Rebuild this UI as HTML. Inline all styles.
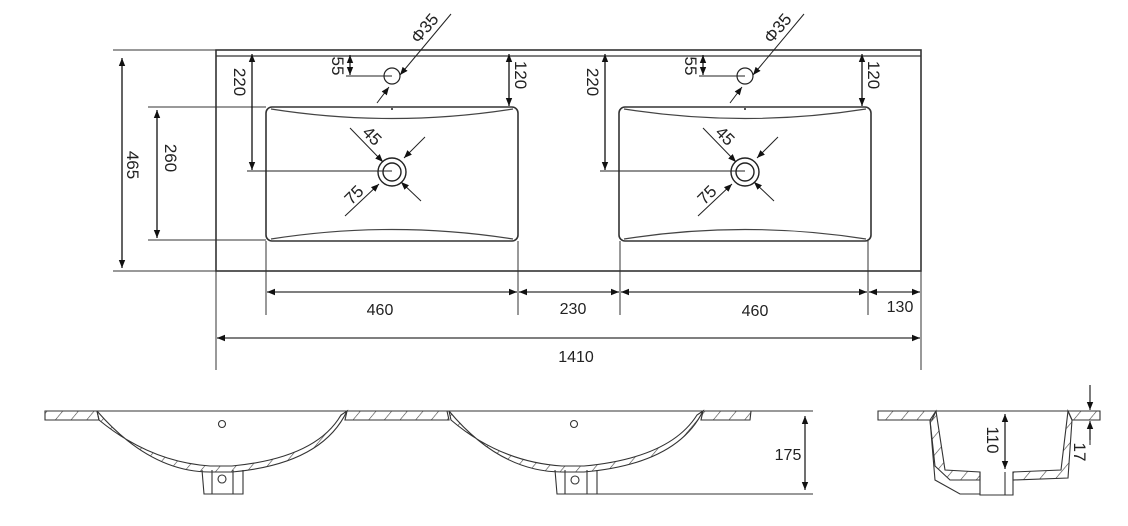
<!DOCTYPE html>
<html><head><meta charset="utf-8"><style>
html,body{margin:0;padding:0;background:#fff;}
svg{display:block;}
text{font-family:"Liberation Sans",sans-serif;fill:#222;}
</style></head><body>
<svg width="1128" height="526" viewBox="0 0 1128 526" xmlns="http://www.w3.org/2000/svg">
<defs>
<marker id="a" viewBox="0 0 10 10" refX="10" refY="5" markerWidth="8" markerHeight="8" orient="auto-start-reverse" markerUnits="userSpaceOnUse"><path d="M0,1 L10,5 L0,9z" fill="#111"/></marker>
<pattern id="h" width="12" height="12" patternUnits="userSpaceOnUse" patternTransform="rotate(40)"><line x1="0" y1="0" x2="0" y2="12" stroke="#444" stroke-width="1.2"/></pattern>
<g id="basin">
 <rect x="266" y="107" width="252" height="134" rx="6" fill="none" stroke="#333" stroke-width="1.6"/>
 <path d="M271,109 Q392,128 513,109" fill="none" stroke="#444" stroke-width="1.2"/>
 <path d="M271,239 Q392,220 513,239" fill="none" stroke="#444" stroke-width="1.2"/>
 <circle cx="392" cy="172" r="9" fill="none" stroke="#222" stroke-width="1.4"/>
 <circle cx="392" cy="172" r="14" fill="none" stroke="#222" stroke-width="1.4"/>
 <circle cx="392" cy="76" r="8" fill="none" stroke="#222" stroke-width="1.2"/>
 <line x1="392" y1="108" x2="392" y2="110" stroke="#555" stroke-width="2"/>
 <line x1="252" y1="54" x2="252" y2="170" stroke="#111" stroke-width="1.3" marker-start="url(#a)" marker-end="url(#a)"/>
 <line x1="247" y1="171" x2="392" y2="171" stroke="#222"/>
 <text transform="translate(234,82) rotate(90)" font-size="17" text-anchor="middle">220</text>
 <line x1="350" y1="55" x2="350" y2="75" stroke="#111" stroke-width="1.2" marker-start="url(#a)" marker-end="url(#a)"/>
 <line x1="346" y1="76" x2="392" y2="76" stroke="#222"/>
 <text transform="translate(332,66) rotate(90)" font-size="17" text-anchor="middle">55</text>
 <line x1="509" y1="54" x2="509" y2="106" stroke="#111" stroke-width="1.3" marker-start="url(#a)" marker-end="url(#a)"/>
 <text transform="translate(515,75) rotate(90)" font-size="17" text-anchor="middle">120</text>
 <line x1="451" y1="14" x2="400" y2="75" stroke="#222" marker-end="url(#a)"/>
 <line x1="377" y1="103" x2="389" y2="87" stroke="#222" marker-end="url(#a)"/>
 <text transform="translate(429,32) rotate(-50)" font-size="17" text-anchor="middle">Φ35</text>
 <line x1="350" y1="128" x2="383" y2="162" stroke="#222" marker-end="url(#a)"/>
 <line x1="425" y1="137" x2="404" y2="158" stroke="#222" marker-end="url(#a)"/>
 <text transform="translate(368,140) rotate(45)" font-size="17" text-anchor="middle">45</text>
 <line x1="345" y1="216" x2="379" y2="184" stroke="#222" marker-end="url(#a)"/>
 <line x1="421" y1="201" x2="401" y2="182" stroke="#222" marker-end="url(#a)"/>
 <text transform="translate(358,199) rotate(-45)" font-size="17" text-anchor="middle">75</text>
</g>
</defs>
<g stroke="#333" fill="none">
 <rect x="216" y="50" width="705" height="221" stroke-width="1.6"/>
 <line x1="216" y1="56" x2="921" y2="56" stroke-width="1.2"/>
 <line x1="113" y1="50" x2="216" y2="50"/>
 <line x1="113" y1="271" x2="216" y2="271"/>
 <line x1="148" y1="107" x2="266" y2="107"/>
 <line x1="148" y1="240" x2="266" y2="240"/>
 <line x1="266" y1="241" x2="266" y2="315"/>
 <line x1="518" y1="241" x2="518" y2="315"/>
 <line x1="620" y1="241" x2="620" y2="315"/>
 <line x1="868" y1="241" x2="868" y2="315"/>
 <line x1="216" y1="271" x2="216" y2="370"/>
 <line x1="921" y1="271" x2="921" y2="370"/>
</g>
<line x1="122" y1="58" x2="122" y2="268" stroke="#111" stroke-width="1.3" marker-start="url(#a)" marker-end="url(#a)"/>
<text transform="translate(127,165) rotate(90)" font-size="17" text-anchor="middle">465</text>
<line x1="157" y1="110" x2="157" y2="238" stroke="#111" stroke-width="1.3" marker-start="url(#a)" marker-end="url(#a)"/>
<text transform="translate(165,158) rotate(90)" font-size="17" text-anchor="middle">260</text>
<use href="#basin"/>
<use href="#basin" transform="translate(353,0)"/>
<g stroke="#333" stroke-width="1.2">
 <line x1="267" y1="292" x2="517" y2="292" marker-start="url(#a)" marker-end="url(#a)"/>
 <line x1="519" y1="292" x2="619" y2="292" marker-start="url(#a)" marker-end="url(#a)"/>
 <line x1="621" y1="292" x2="867" y2="292" marker-start="url(#a)" marker-end="url(#a)"/>
 <line x1="869" y1="292" x2="920" y2="292" marker-start="url(#a)" marker-end="url(#a)"/>
 <line x1="217" y1="338" x2="920" y2="338" marker-start="url(#a)" marker-end="url(#a)"/>
</g>
<g font-size="16" text-anchor="middle">
 <text x="380" y="315">460</text><text x="573" y="314">230</text>
 <text x="755" y="316">460</text><text x="900" y="312">130</text>
 <text x="576" y="362">1410</text>
</g>
<g stroke="#333" stroke-width="1.1">
 <line x1="45" y1="411" x2="813" y2="411"/>
 <line x1="597" y1="494" x2="813" y2="494"/>
 <path d="M45,411 L97,411 L99,420 L45,420 Z" fill="url(#h)"/>
 <path d="M347,411 L447,411 L449,420 L345,420 Z" fill="url(#h)"/>
 <path d="M703,411 L751,411 L750,420 L701,420 Z" fill="url(#h)"/>
 <path d="M97,411 Q150,472 210,472 L232,472 Q322,464 347,411 L341,415 Q316,458 232,466 L210,466 Q150,462 99,420 Z" fill="url(#h)"/>
 <path d="M449,411 Q500,472 562,472 L584,472 Q677,464 703,411 L697,415 Q670,458 584,466 L562,466 Q500,462 451,420 Z" fill="url(#h)"/>
 <path d="M202,470 L204,494 L243,494 L243,470" fill="none"/>
 <line x1="212" y1="470" x2="212" y2="494"/><line x1="233" y1="470" x2="233" y2="494"/>
 <path d="M555,470 L557,494 L597,494 L597,470" fill="none"/>
 <line x1="565" y1="470" x2="565" y2="494"/><line x1="587" y1="470" x2="587" y2="494"/>
 <circle cx="222" cy="424" r="3.5" fill="none"/><circle cx="574" cy="424" r="3.5" fill="none"/>
 <circle cx="222" cy="479" r="4" fill="none"/><circle cx="575" cy="480" r="4" fill="none"/>
</g>
<line x1="805" y1="416" x2="805" y2="490" stroke="#111" stroke-width="1.2" marker-start="url(#a)" marker-end="url(#a)"/>
<text x="788" y="460" font-size="16" text-anchor="middle">175</text>
<g stroke="#333" stroke-width="1.1">
 <path d="M878,411 L936,411 L932,420 L878,420 Z" fill="url(#h)"/>
 <path d="M1068,411 L1100,411 L1100,420 L1072,420 Z" fill="url(#h)"/>
 <line x1="936" y1="411" x2="1068" y2="411"/>
 <path d="M936,411 L945,470 L980,472 L980,480 L950,480 L935,466 L930,420 Z" fill="url(#h)"/>
 <path d="M1068,411 L1061,470 L1013,472 L1013,480 L1068,478 L1072,420 Z" fill="url(#h)"/>
 <path d="M930,420 L935,480 L960,494 L980,494" fill="none"/>
 <path d="M980,472 L980,495 L1013,495 L1013,472" fill="none"/>
 <line x1="1005" y1="472" x2="1005" y2="495"/>
 <line x1="1090" y1="423" x2="1090" y2="445"/>
</g>
<line x1="1005" y1="414" x2="1005" y2="469" stroke="#111" stroke-width="1.2" marker-start="url(#a)" marker-end="url(#a)"/>
<text transform="translate(987,440) rotate(90)" font-size="17" text-anchor="middle">110</text>
<line x1="1090" y1="385" x2="1090" y2="410" stroke="#111" stroke-width="1.1" marker-end="url(#a)"/>
<line x1="1090" y1="440" x2="1090" y2="421" stroke="#111" stroke-width="1.1" marker-end="url(#a)"/>
<text transform="translate(1074,452) rotate(90)" font-size="17" text-anchor="middle">17</text>
</svg>
</body></html>
